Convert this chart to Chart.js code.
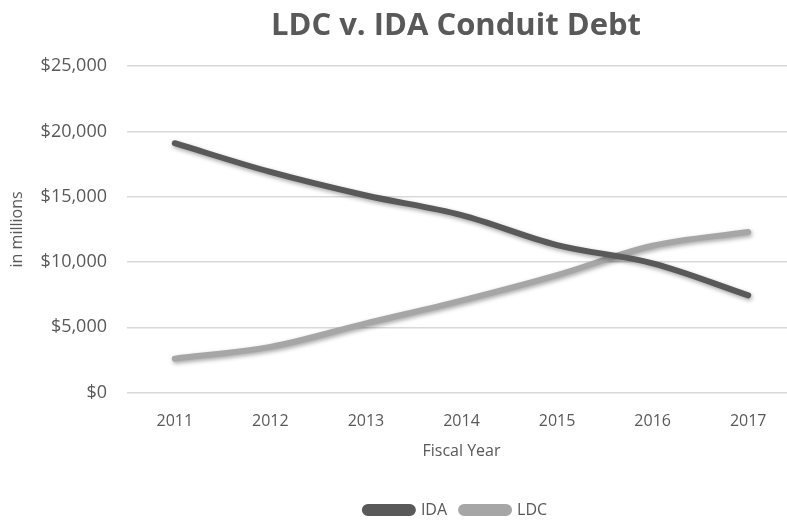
<!DOCTYPE html>
<html>
<head>
<meta charset="utf-8">
<script src="https://cdn.jsdelivr.net/npm/chart.js@4/dist/chart.umd.min.js"></script>
<style>
  html, body { margin: 0; padding: 0; background: #fff; overflow: hidden; }
  #wrap { width: 912px; height: 521px; }
</style>
</head>
<body>
<div id="wrap"><canvas id="debtChart"></canvas></div>
<script>
// fiscal years and conduit debt (in millions)
const years = ['2011', '2012', '2013', '2014', '2015', '2016', '2017'];
const idaDebt = [19100, 16900, 15100, 13600, 11300, 9900, 7450];
const ldcDebt = [2600, 3500, 5300, 7050, 9000, 11250, 12300];
const yTicks = [0, 5000, 10000, 15000, 20000, 25000];

const textGray = '#595959';
const fontFamily = "'Open Sans', 'Noto Sans', sans-serif";

// soft drop shadow under the lines, like the Excel original
const lineShadow = {
    id: 'lineShadow',
    beforeDatasetDraw(chart) {
        const ctx = chart.ctx;
        ctx.save();
        ctx.shadowColor = 'rgba(0,0,0,0.35)';
        ctx.shadowBlur = 4;
        ctx.shadowOffsetX = 1;
        ctx.shadowOffsetY = 2;
    },
    afterDatasetDraw(chart) {
        chart.ctx.restore();
    }
};

const ctx = document.getElementById('debtChart').getContext('2d');
new Chart(ctx, {
    type: 'line',
    data: {
        labels: years,
        datasets: [
            { label: 'IDA', data: idaDebt, borderColor: '#595959', backgroundColor: '#595959', borderWidth: 6, borderCapStyle: 'round', pointRadius: 0, tension: 0.35 },
            { label: 'LDC', data: ldcDebt, borderColor: '#a6a6a6', backgroundColor: '#a6a6a6', borderWidth: 6, borderCapStyle: 'round', pointRadius: 0, tension: 0.35 }
        ]
    },
    options: {
        responsive: true,
        maintainAspectRatio: false,
        animation: false,
        layout: { padding: { left: 0, right: 0, top: 4, bottom: -7 } },
        scales: {
            x: {
                offset: true,
                grid: { display: false },
                border: { display: false },
                ticks: { color: textGray, font: { family: fontFamily, size: 16 }, padding: 11 },
                title: { display: true, text: 'Fiscal Year', color: textGray, font: { family: fontFamily, size: 16 }, padding: { top: 0, bottom: 27 } }
            },
            y: {
                min: 0,
                max: 25000,
                afterBuildTicks(axis) { axis.ticks = yTicks.map(v => ({ value: v })); },
                afterFit(axis) { axis.width = 127; },
                grid: { color: '#d9d9d9', lineWidth: 1.5, drawTicks: false },
                border: { display: false },
                ticks: {
                    color: textGray,
                    font: { family: fontFamily, size: 18 },
                    padding: 20,
                    callback: v => '$' + v.toLocaleString('en-US')
                },
                title: { display: true, text: 'in millions', color: textGray, font: { family: fontFamily, size: 16 }, padding: { top: 8, bottom: 0 } }
            },
            // empty right axis just to reserve space, so the plot runs past the window edge
            spacer: {
                position: 'right',
                grid: { display: false },
                border: { display: false },
                ticks: { display: false },
                afterFit(axis) { axis.width = 116; }
            }
        },
        plugins: {
            title: {
                display: true,
                text: 'LDC v. IDA Conduit Debt',
                color: textGray,
                font: { family: fontFamily, size: 31, weight: 'bold' },
                padding: { top: 4, bottom: 21 }
            },
            legend: {
                position: 'bottom',
                labels: {
                    color: textGray,
                    font: { family: fontFamily, size: 16 },
                    boxWidth: 48,
                    boxHeight: 6,
                    useBorderRadius: true,
                    borderRadius: 3,
                    padding: 14
                }
            },
            tooltip: { enabled: false }
        }
    },
    plugins: [lineShadow]
});
</script>
</body>
</html>
